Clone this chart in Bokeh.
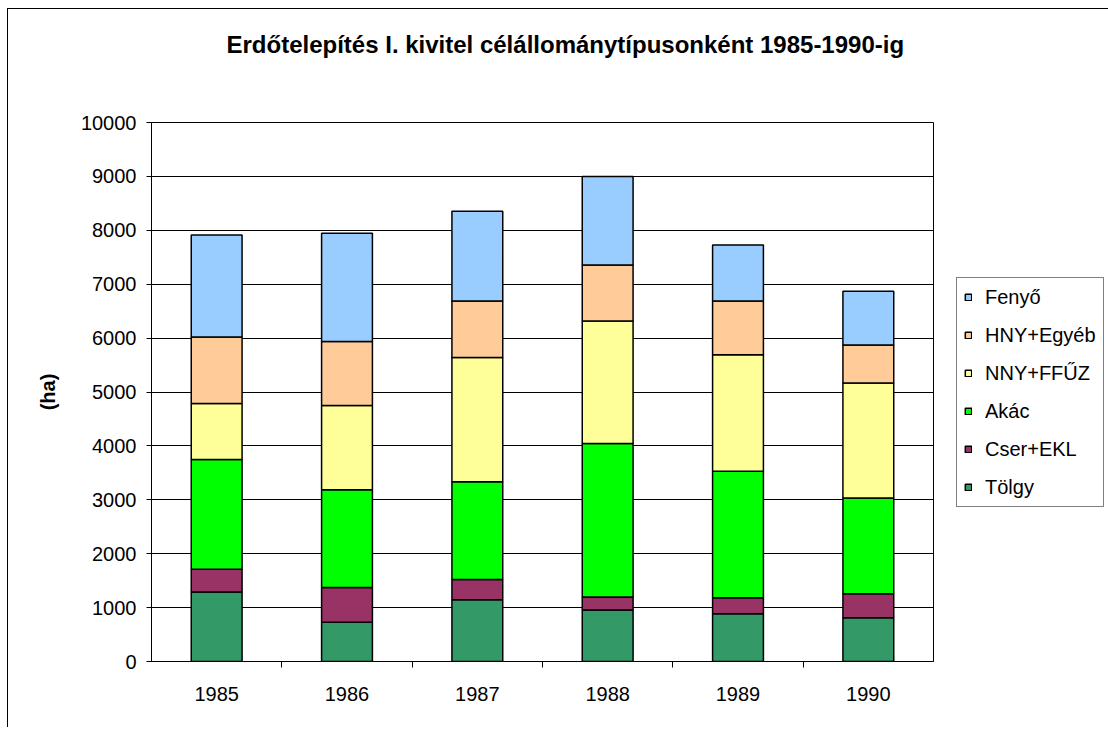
from bokeh.plotting import figure
from bokeh.models import (FactorRange, Range1d, CategoricalAxis, FixedTicker,
                          Legend, LegendItem, ColumnDataSource)
from bokeh.embed import file_html
from bokeh.resources import INLINE

years = ["1985", "1986", "1987", "1988", "1989", "1990"]
tolgy = [1290, 730, 1145, 955, 885, 810]
cser_ekl = [420, 645, 375, 240, 300, 445]
akac = [2040, 1810, 1815, 2850, 2345, 1780]
nny_ffuz = [1035, 1565, 2305, 2270, 2160, 2130]
hny_egyeb = [1235, 1185, 1050, 1040, 1000, 705]
fenyo = [1895, 2010, 1665, 1645, 1035, 1000]

series_names = ["Tölgy", "Cser+EKL", "Akác", "NNY+FFŰZ", "HNY+Egyéb", "Fenyő"]
keys = ["tolgy", "cser", "akac", "nny", "hny", "fenyo"]
colors = ["#339966", "#993366", "#00FF00", "#FFFF99", "#FFCC99", "#99CCFF"]
y_ticks = list(range(0, 10001, 1000))
title_text = "Erdőtelepítés I. kivitel célállománytípusonként 1985-1990-ig"

FONT = "Liberation Sans"

src = ColumnDataSource(dict(year=years, tolgy=tolgy, cser=cser_ekl, akac=akac,
                            nny=nny_ffuz, hny=hny_egyeb, fenyo=fenyo))

p = figure(x_range=FactorRange(*years), y_range=Range1d(0, 10000),
           frame_width=782, frame_height=539,
           min_border_left=143, min_border_right=168, min_border_top=113, min_border_bottom=66,
           output_backend="svg", toolbar_location=None, x_axis_location=None,
           background_fill_color="white", border_fill_color="white",
           styles={"margin-left": "7px", "margin-top": "8px",
                   "border-left": "1px solid black", "border-top": "1px solid black"})

renderers = p.vbar_stack(keys, x="year", width=0.39, fill_color=colors, line_color="black",
                         line_width=1.5, source=src)

# title (two blank lines below it keep it well above the plot area)
p.title.text = title_text + "\n \n "
p.title.align = "left"
p.title.offset = 75
p.title.standoff = 22
p.title.text_font = FONT
p.title.text_font_size = "24px"
p.title.text_font_style = "bold"
p.title.text_color = "black"

# y axis
yax = p.yaxis[0]
yax.ticker = FixedTicker(ticks=y_ticks, minor_ticks=[])
yax.major_tick_out = 5
yax.major_tick_in = 0
yax.minor_tick_line_color = None
yax.axis_line_color = "black"
yax.major_tick_line_color = "black"
yax.major_label_text_font = FONT
yax.major_label_text_font_size = "20px"
yax.major_label_text_color = "black"
yax.major_label_standoff = 10
yax.axis_label = "(ha)"
yax.axis_label_text_font = FONT
yax.axis_label_text_font_size = "20px"
yax.axis_label_text_font_style = "bold"
yax.axis_label_text_color = "black"
yax.axis_label_standoff = 19

p.ygrid.ticker = FixedTicker(ticks=y_ticks, minor_ticks=[])
p.ygrid.grid_line_color = "black"
p.ygrid.grid_line_width = 1
p.xgrid.visible = False
p.outline_line_color = "black"
p.outline_line_width = 1
p.outline_line_alpha = 1

# x axis: ticks at category boundaries (a second factor range whose factors sit on
# the boundaries) + category labels
bounds = [str(i) for i in range(len(years) + 1)]
p.extra_x_ranges = {"bounds": FactorRange(*bounds, range_padding=-0.5,
                                          range_padding_units="absolute")}
tax = CategoricalAxis(x_range_name="bounds",
                      major_label_text_font_size="0px", major_label_standoff=0,
                      major_label_text_color=None,
                      major_tick_out=6, major_tick_in=0, axis_line_color="black",
                      major_tick_line_color="black")
p.add_layout(tax, "below")
cax = CategoricalAxis(major_tick_line_color=None, major_tick_out=0, major_tick_in=0,
                      axis_line_color=None, major_label_standoff=19,
                      major_label_text_font=FONT, major_label_text_font_size="20px",
                      major_label_text_color="black")
p.add_layout(cax, "below")

# legend
items = [LegendItem(label=n, renderers=[r]) for n, r in reversed(list(zip(series_names, renderers)))]
legend = Legend(items=items, location=(23, 154), orientation="vertical",
                border_line_color="black", border_line_width=1, background_fill_color="white",
                background_fill_alpha=1, glyph_width=8, glyph_height=8, label_standoff=13,
                padding=7, spacing=14, margin=0, label_height=24, label_width=104,
                label_text_font=FONT, label_text_font_size="20px", label_text_color="black")
p.add_layout(legend, "right")

open("out.html", "w").write(file_html(p, INLINE))
